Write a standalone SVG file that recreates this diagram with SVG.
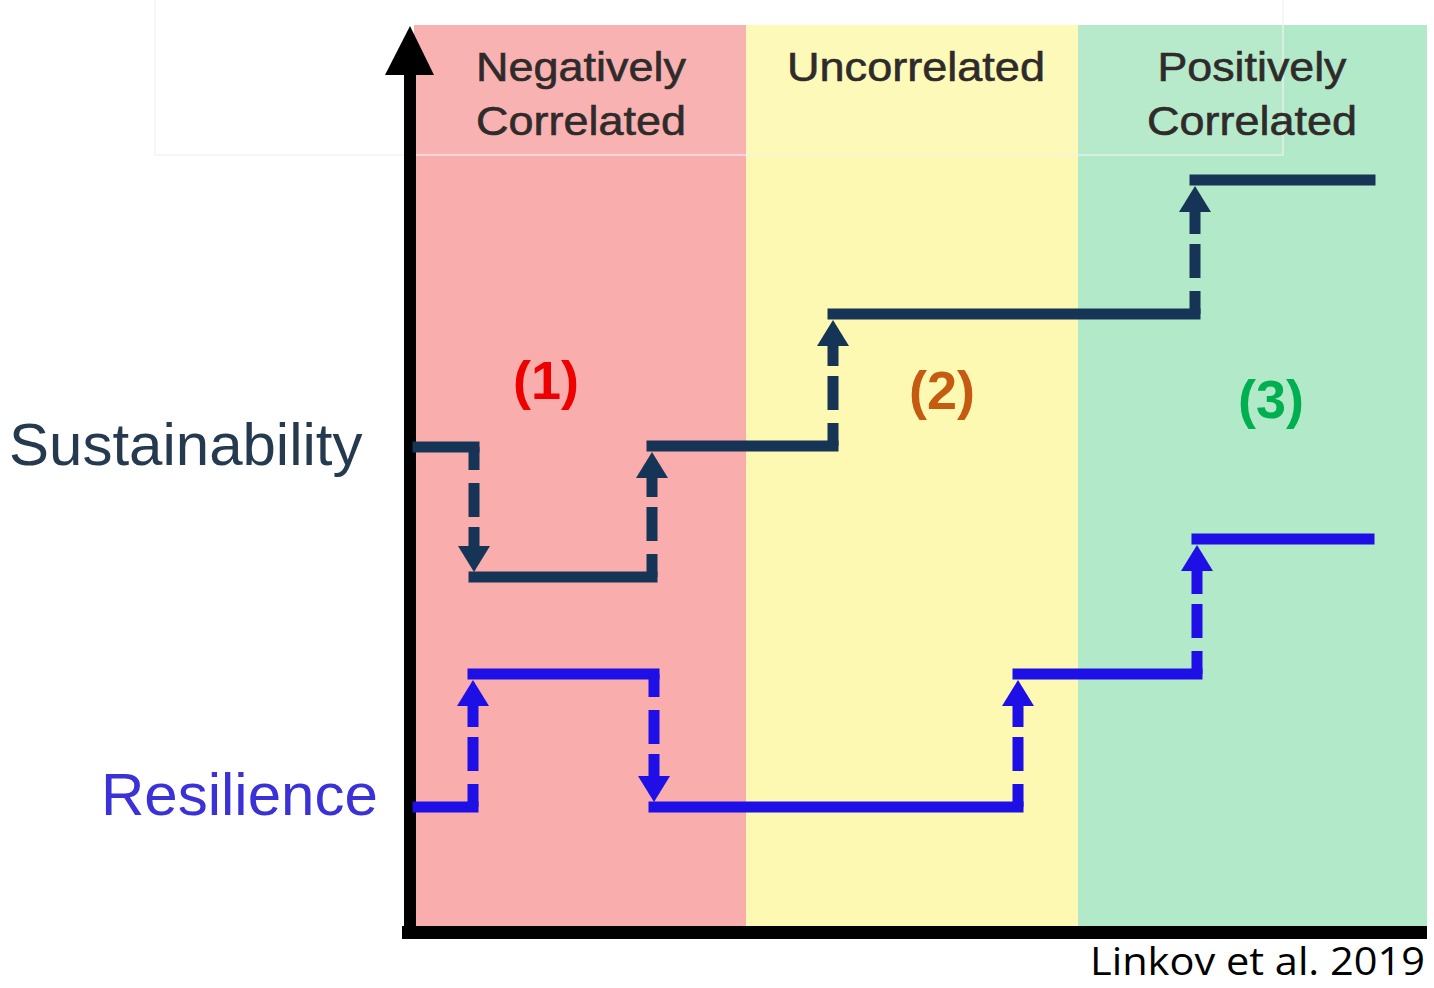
<svg xmlns="http://www.w3.org/2000/svg" width="1434" height="988" viewBox="0 0 1434 988">
  <style>
    .hdr { font-family: "Liberation Sans", Arial, sans-serif; font-size: 41px; fill: #2f2b2b; text-anchor: middle; stroke: #2f2b2b; stroke-width: 0.6px; }
    .lbl { font-family: "Liberation Sans", Arial, sans-serif; font-size: 60px; }
    .num { font-family: "Liberation Sans", Arial, sans-serif; font-size: 54px; font-weight: bold; text-anchor: middle; }
    .s { stroke: #163556; stroke-width: 11; fill: none; stroke-linecap: square; }
    .r { stroke: #1e0fe6; stroke-width: 11; fill: none; stroke-linecap: square; }
    .d { stroke-linecap: butt; stroke-dasharray: 23 13 34 10 300; }
  </style>
  <defs>
    <polygon id="ahUp" points="0,0 -16,26 16,26"/>
    <polygon id="ahDown" points="0,0 -16,-26 16,-26"/>
  </defs>
  <rect width="1434" height="988" fill="#ffffff"/>

  <g id="regions">
    <rect id="region-negative" x="414" y="25" width="332" height="902" fill="#f9adad"/>
    <rect id="region-uncorrelated" x="746" y="25" width="332" height="902" fill="#fdf9b3"/>
    <rect id="region-positive" x="1078" y="25" width="349" height="902" fill="#b2e9c8"/>
  </g>

  <rect id="faint-box" x="155" y="-4" width="1128" height="159" fill="#ffffff" fill-opacity="0.07" stroke="#f1f1f1" stroke-width="1.5" stroke-opacity="0.8"/>

  <g id="headers">
    <text class="hdr" x="581" y="81" textLength="210" lengthAdjust="spacingAndGlyphs">Negatively</text>
    <text class="hdr" x="581" y="135" textLength="210" lengthAdjust="spacingAndGlyphs">Correlated</text>
    <text class="hdr" x="916" y="81" textLength="258" lengthAdjust="spacingAndGlyphs">Uncorrelated</text>
    <text class="hdr" x="1252" y="81" textLength="189" lengthAdjust="spacingAndGlyphs">Positively</text>
    <text class="hdr" x="1252" y="135" textLength="210" lengthAdjust="spacingAndGlyphs">Correlated</text>
  </g>

  <g id="axes" fill="#000000">
    <rect x="404" y="70" width="12" height="868"/>
    <polygon points="410,26 385,75 434,75"/>
    <rect x="402" y="926" width="1025" height="13"/>
  </g>

  <g id="axis-labels">
    <text id="label-sustainability" class="lbl" x="9" y="465" fill="#263a4f">Sustainability</text>
    <text id="label-resilience" class="lbl" x="101" y="815" fill="#3a32d6">Resilience</text>
  </g>

  <g id="phase-labels">
    <text id="phase-1" class="num" x="546" y="399" fill="#ee0000">(1)</text>
    <text id="phase-2" class="num" x="942" y="409" fill="#c55a11">(2)</text>
    <text id="phase-3" class="num" x="1271" y="418" fill="#00b050">(3)</text>
  </g>

  <g id="connectors">
    <g id="sustainability-line">
      <path class="s" d="M418,447 H474"/>
      <path class="s d" d="M474,447 V556"/>
      <use href="#ahDown" x="474" y="572" fill="#163556"/>
      <path class="s" d="M474,577 H652"/>
      <path class="s d" d="M652,577 V468"/>
      <use href="#ahUp" x="652" y="452" fill="#163556"/>
      <path class="s" d="M652,446 H833"/>
      <path class="s d" d="M833,446 V336"/>
      <use href="#ahUp" x="833" y="320" fill="#163556"/>
      <path class="s" d="M833,314 H1195"/>
      <path class="s d" d="M1195,314 V202"/>
      <use href="#ahUp" x="1195" y="186" fill="#163556"/>
      <path class="s" d="M1195,180 H1370"/>
    </g>
    <g id="resilience-line">
      <path class="r" d="M418,807 H473"/>
      <path class="r d" d="M473,807 V696"/>
      <use href="#ahUp" x="473" y="680" fill="#1e0fe6"/>
      <path class="r" d="M473,674 H654"/>
      <path class="r d" d="M654,674 V786"/>
      <use href="#ahDown" x="654" y="802" fill="#1e0fe6"/>
      <path class="r" d="M654,807 H1018"/>
      <path class="r d" d="M1018,807 V696"/>
      <use href="#ahUp" x="1018" y="680" fill="#1e0fe6"/>
      <path class="r" d="M1018,674 H1197"/>
      <path class="r d" d="M1197,674 V561"/>
      <use href="#ahUp" x="1197" y="545" fill="#1e0fe6"/>
      <path class="r" d="M1197,539 H1369"/>
    </g>
  </g>

  <text id="citation" x="1090" y="975" font-family="'Open Sans', 'Liberation Sans', sans-serif" font-size="38" fill="#000000" textLength="335" lengthAdjust="spacingAndGlyphs">Linkov et al. 2019</text>
</svg>
